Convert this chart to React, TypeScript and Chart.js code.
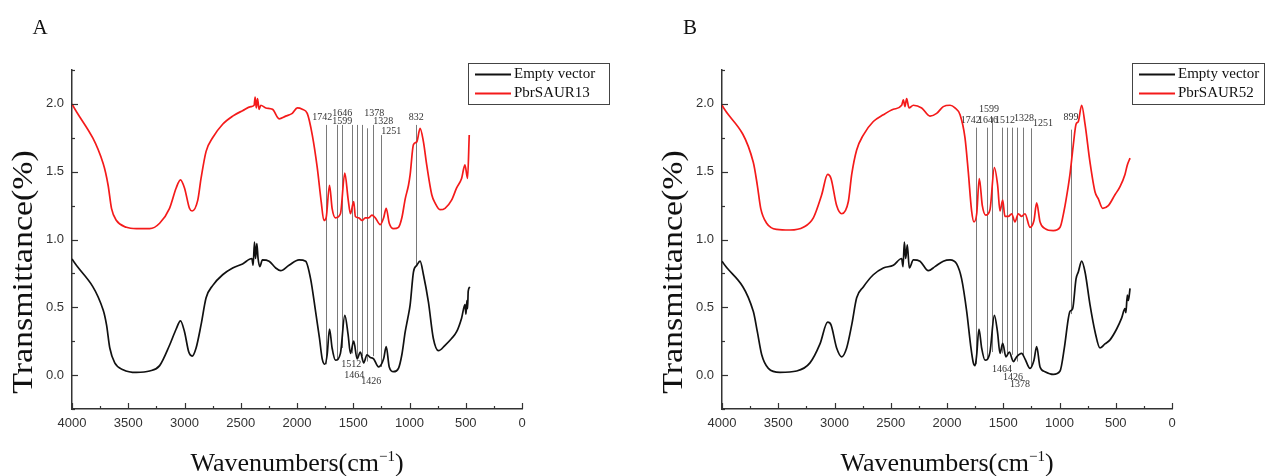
import React, { useEffect, useRef } from 'react';
import { Chart, registerables } from 'chart.js';

Chart.register(...registerables);

type Pt = [number, number];

// ---------- axis ticks ----------
const xTickValues = [4000, 3500, 3000, 2500, 2000, 1500, 1000, 500, 0];
const xMinorValues = [3750, 3250, 2750, 2250, 1750, 1250, 750, 250];
const yTickValues = [0, 0.5, 1.0, 1.5, 2.0];
const yMinorValues = [-0.25, 0.25, 0.75, 1.25, 1.75, 2.25];

// ---------- panel A data ----------
const emptyA: Pt[] = [
  [4000, 0.856], [3723, 0.48], [3693, 0.37], [3664, 0.2], [3620, 0.09], [3546, 0.04], [3428, 0.02],
  [3310, 0.03], [3221, 0.07], [3133, 0.22], [3074, 0.34], [3036, 0.4], [3000, 0.32], [2962, 0.17],
  [2932, 0.14], [2897, 0.2], [2853, 0.37], [2808, 0.57], [2750, 0.66], [2661, 0.74], [2572, 0.79],
  [2484, 0.82], [2401, 0.86], [2390, 0.81], [2378, 0.98], [2368, 0.86], [2357, 0.97], [2346, 0.86],
  [2331, 0.8], [2307, 0.85], [2248, 0.84], [2189, 0.79], [2145, 0.77], [2071, 0.81], [1982, 0.85],
  [1923, 0.84], [1879, 0.71], [1835, 0.47], [1800, 0.27], [1776, 0.12], [1752, 0.08], [1732, 0.15],
  [1711, 0.34], [1688, 0.2], [1658, 0.11], [1614, 0.16], [1575, 0.44], [1546, 0.3], [1525, 0.16],
  [1496, 0.25], [1466, 0.12], [1437, 0.17], [1407, 0.09], [1378, 0.15], [1348, 0.13], [1319, 0.12],
  [1275, 0.06], [1230, 0.12], [1207, 0.21], [1180, 0.06], [1142, 0.025], [1098, 0.05], [1068, 0.15],
  [1038, 0.32], [1015, 0.42], [994, 0.52], [965, 0.76], [935, 0.81], [906, 0.84], [876, 0.74],
  [832, 0.54], [788, 0.27], [743, 0.18], [684, 0.22], [626, 0.27], [581, 0.32], [537, 0.42],
  [507, 0.52], [498, 0.45], [490, 0.55], [484, 0.49], [478, 0.62], [463, 0.65],
];
const saur13: Pt[] = [
  [4000, 2.0], [3723, 1.56], [3679, 1.4], [3649, 1.23], [3605, 1.14], [3516, 1.09], [3428, 1.08],
  [3310, 1.08], [3221, 1.12], [3133, 1.23], [3074, 1.38], [3036, 1.44], [3000, 1.38], [2956, 1.23],
  [2932, 1.21], [2882, 1.29], [2853, 1.45], [2808, 1.65], [2750, 1.75], [2661, 1.85], [2572, 1.91],
  [2484, 1.95], [2410, 1.98], [2381, 1.99], [2372, 2.05], [2362, 1.97], [2351, 2.04], [2337, 1.96],
  [2322, 1.99], [2277, 1.97], [2218, 1.96], [2159, 1.89], [2101, 1.91], [2042, 1.93], [1997, 1.97],
  [1953, 1.96], [1909, 1.93], [1864, 1.77], [1820, 1.53], [1785, 1.28], [1761, 1.14], [1741, 1.16],
  [1711, 1.4], [1688, 1.23], [1658, 1.16], [1614, 1.19], [1575, 1.49], [1546, 1.3], [1525, 1.19],
  [1496, 1.28], [1481, 1.17], [1451, 1.16], [1422, 1.14], [1393, 1.16], [1363, 1.16], [1334, 1.18],
  [1304, 1.16], [1260, 1.11], [1230, 1.16], [1207, 1.23], [1180, 1.12], [1142, 1.08], [1098, 1.09],
  [1068, 1.16], [1038, 1.3], [1009, 1.4], [994, 1.48], [965, 1.7], [935, 1.72], [906, 1.82],
  [876, 1.72], [847, 1.55], [802, 1.33], [773, 1.27], [729, 1.22], [684, 1.23], [626, 1.29],
  [581, 1.38], [537, 1.45], [507, 1.55], [484, 1.45], [469, 1.77],
];
const peakWaveA = [1742, 1646, 1599, 1512, 1464, 1426, 1378, 1328, 1251, 945];
const peakTopA = [1.845, 1.845, 1.845, 1.845, 1.845, 1.845, 1.82, 1.845, 1.77, 1.845];
const peakBottomA = [0.08, 0.11, 0.2, 0.16, 0.12, 0.14, 0.1, 0.14, 0.06, 0.81];
const labelTextA = ['1742', '1646', '1599', '1378', '1328', '1251', '832', '1512', '1464', '1426'];
const labelWaveA = [1775, 1598, 1598, 1314, 1234, 1163, 941, 1518, 1491, 1340];
const labelValA = [1.9, 1.93, 1.87, 1.93, 1.87, 1.8, 1.9, 0.08, 0.0, -0.045];

// ---------- panel B data ----------
const emptyB: Pt[] = [
  [4000, 0.84], [3722, 0.47], [3686, 0.32], [3647, 0.15], [3588, 0.05], [3485, 0.02], [3336, 0.03],
  [3218, 0.09], [3129, 0.23], [3061, 0.39], [3031, 0.37], [2981, 0.2], [2936, 0.135], [2892, 0.2],
  [2847, 0.37], [2803, 0.57], [2744, 0.65], [2655, 0.74], [2566, 0.79], [2477, 0.81], [2403, 0.86],
  [2391, 0.8], [2379, 0.98], [2367, 0.86], [2353, 0.96], [2335, 0.79], [2299, 0.85], [2240, 0.84],
  [2166, 0.77], [2107, 0.8], [2033, 0.84], [1973, 0.85], [1914, 0.82], [1870, 0.71], [1825, 0.47],
  [1790, 0.22], [1766, 0.09], [1751, 0.07], [1736, 0.15], [1716, 0.34], [1692, 0.2], [1662, 0.11],
  [1618, 0.17], [1579, 0.44], [1550, 0.31], [1529, 0.16], [1505, 0.235], [1476, 0.135], [1446, 0.17],
  [1410, 0.1], [1381, 0.135], [1336, 0.16], [1307, 0.12], [1262, 0.05], [1227, 0.11], [1203, 0.21],
  [1173, 0.06], [1129, 0.025], [1055, 0.005], [995, 0.03], [957, 0.2], [921, 0.42], [907, 0.47],
  [883, 0.49], [853, 0.71], [833, 0.76], [803, 0.84], [773, 0.76], [729, 0.52], [684, 0.32],
  [640, 0.2], [596, 0.23], [551, 0.26], [492, 0.34], [448, 0.42], [418, 0.49], [410, 0.46],
  [397, 0.59], [388, 0.55], [373, 0.64],
];
const saur52: Pt[] = [
  [4000, 1.99], [3722, 1.57], [3686, 1.4], [3656, 1.23], [3603, 1.12], [3514, 1.075], [3396, 1.07],
  [3277, 1.09], [3188, 1.16], [3114, 1.33], [3061, 1.48], [3031, 1.45], [2981, 1.25], [2936, 1.19],
  [2877, 1.28], [2847, 1.48], [2803, 1.66], [2744, 1.77], [2655, 1.87], [2566, 1.92], [2477, 1.96],
  [2403, 1.99], [2388, 2.03], [2374, 1.98], [2359, 2.04], [2338, 1.97], [2299, 1.99], [2225, 1.97],
  [2151, 1.91], [2092, 1.93], [2033, 1.98], [1973, 1.99], [1929, 1.97], [1884, 1.92], [1840, 1.75],
  [1811, 1.5], [1781, 1.21], [1760, 1.13], [1736, 1.19], [1713, 1.45], [1686, 1.25], [1656, 1.18],
  [1618, 1.22], [1579, 1.53], [1550, 1.4], [1529, 1.21], [1505, 1.29], [1485, 1.17], [1455, 1.17],
  [1425, 1.19], [1396, 1.13], [1366, 1.19], [1336, 1.17], [1307, 1.19], [1262, 1.09], [1227, 1.14],
  [1203, 1.27], [1173, 1.13], [1129, 1.08], [1055, 1.065], [995, 1.09], [960, 1.21], [921, 1.4],
  [907, 1.48], [877, 1.7], [853, 1.85], [833, 1.87], [803, 1.99], [773, 1.85], [729, 1.57],
  [684, 1.35], [655, 1.3], [616, 1.23], [566, 1.25], [507, 1.33], [462, 1.39], [418, 1.48],
  [397, 1.55], [373, 1.6],
];
const peakWaveB = [1742, 1646, 1599, 1512, 1464, 1426, 1378, 1328, 1251, 899];
const peakTopB = [1.825, 1.825, 1.9, 1.825, 1.825, 1.825, 1.825, 1.825, 1.82, 1.81];
const peakBottomB = [0.08, 0.11, 0.17, 0.16, 0.14, 0.15, 0.1, 0.14, 0.06, 0.45];
const labelTextB = ['1599', '1742', '1646', '1512', '1328', '1251', '899', '1464', '1426', '1378'];
const labelWaveB = [1627, 1790, 1636, 1484, 1316, 1147, 898, 1511, 1413, 1351];
const labelValB = [1.96, 1.875, 1.875, 1.875, 1.89, 1.86, 1.9, 0.045, -0.015, -0.066];

const seriesNames = ['Empty vector'];

interface PanelCfg {
  letter: string;
  name: string;
  empty: Pt[];
  saur: Pt[];
  peakWave: number[];
  peakTop: number[];
  peakBottom: number[];
  labelText: string[];
  labelWave: number[];
  labelVal: number[];
  width: number;
  legendX: number;
  legendW: number;
}

const panelA: PanelCfg = {
  letter: 'A', name: 'PbrSAUR13', empty: emptyA, saur: saur13,
  peakWave: peakWaveA, peakTop: peakTopA, peakBottom: peakBottomA,
  labelText: labelTextA, labelWave: labelWaveA, labelVal: labelValA,
  width: 650, legendX: 468, legendW: 141,
};
const panelB: PanelCfg = {
  letter: 'B', name: 'PbrSAUR52', empty: emptyB, saur: saur52,
  peakWave: peakWaveB, peakTop: peakTopB, peakBottom: peakBottomB,
  labelText: labelTextB, labelWave: labelWaveB, labelVal: labelValB,
  width: 616, legendX: 482, legendW: 132,
};

const H = 476;
const PLOT_LEFT = 72;
const PLOT_RIGHT = 522;
const PLOT_TOP = 70;
const PLOT_BOTTOM = 409;
const BLACK = '#111111';
const RED = '#f41a1a';
const AXIS = '#333333';
const SERIF = '"Liberation Serif", "Times New Roman", serif';
const SANS = '"Liberation Sans", Arial, sans-serif';

function makeChart(canvas: HTMLCanvasElement, cfg: PanelCfg) {
  const decor = {
    id: 'decor',
    beforeDatasetsDraw(chart: any) {
      const { ctx } = chart;
      const xs = chart.scales.x;
      const ys = chart.scales.y;
      ctx.save();
      ctx.strokeStyle = '#7a7a7a';
      ctx.lineWidth = 1;
      cfg.peakWave.forEach((w, i) => {
        const px = Math.round(xs.getPixelForValue(w)) + 0.5;
        ctx.beginPath();
        ctx.moveTo(px, ys.getPixelForValue(cfg.peakTop[i]));
        ctx.lineTo(px, ys.getPixelForValue(cfg.peakBottom[i]));
        ctx.stroke();
      });
      ctx.fillStyle = '#333';
      ctx.font = `10px ${SERIF}`;
      ctx.textAlign = 'center';
      ctx.textBaseline = 'middle';
      cfg.labelText.forEach((t, i) => {
        ctx.fillText(t, xs.getPixelForValue(cfg.labelWave[i]), ys.getPixelForValue(cfg.labelVal[i]));
      });
      ctx.restore();
    },
    afterDraw(chart: any) {
      const { ctx } = chart;
      const xs = chart.scales.x;
      const ys = chart.scales.y;
      const area = chart.chartArea;
      ctx.save();
      // inward tick marks
      ctx.strokeStyle = AXIS;
      ctx.lineWidth = 1.2;
      const xt = (v: number, len: number) => {
        const px = Math.round(xs.getPixelForValue(v)) + 0.5;
        ctx.beginPath();
        ctx.moveTo(px, area.bottom);
        ctx.lineTo(px, area.bottom - len);
        ctx.stroke();
      };
      const yt = (v: number, len: number) => {
        const py = Math.round(ys.getPixelForValue(v)) + 0.5;
        ctx.beginPath();
        ctx.moveTo(area.left, py);
        ctx.lineTo(area.left + len, py);
        ctx.stroke();
      };
      xTickValues.forEach((v) => xt(v, 6));
      xMinorValues.forEach((v) => xt(v, 3));
      yTickValues.forEach((v) => yt(v, 6));
      yMinorValues.forEach((v) => yt(v, 3));

      // axis titles
      ctx.fillStyle = '#111';
      ctx.textBaseline = 'alphabetic';
      const cx = (area.left + area.right) / 2;
      const base = 'Wavenumbers(cm';
      const sup = '\u22121';
      const tail = ')';
      ctx.font = `26px ${SERIF}`;
      const wBase = ctx.measureText(base).width;
      const wTail = ctx.measureText(tail).width;
      ctx.font = `15px ${SERIF}`;
      const wSup = ctx.measureText(sup).width;
      const x0 = cx - (wBase + wSup + wTail) / 2;
      const baseline = 471;
      ctx.textAlign = 'left';
      ctx.font = `26px ${SERIF}`;
      ctx.fillText(base, x0, baseline);
      ctx.font = `15px ${SERIF}`;
      ctx.fillText(sup, x0 + wBase, baseline - 10);
      ctx.font = `26px ${SERIF}`;
      ctx.fillText(tail, x0 + wBase + wSup, baseline);

      ctx.textAlign = 'center';
      ctx.textBaseline = 'middle';
      ctx.save();
      ctx.translate(24, 272);
      ctx.rotate(-Math.PI / 2);
      ctx.scale(1.17, 1);
      ctx.font = `29px ${SERIF}`;
      ctx.fillText('Transmittance(%)', 0, 0);
      ctx.restore();

      // panel letter
      ctx.font = `21px ${SERIF}`;
      ctx.fillText(cfg.letter, 40, 28);

      // legend
      const lx = cfg.legendX;
      const ly = 63;
      ctx.strokeStyle = '#444';
      ctx.lineWidth = 1;
      ctx.strokeRect(lx + 0.5, ly + 0.5, cfg.legendW, 41);
      const rows = [
        { color: BLACK, text: seriesNames[0], y: ly + 11.5 },
        { color: RED, text: cfg.name, y: ly + 30.5 },
      ];
      rows.forEach((r) => {
        ctx.strokeStyle = r.color;
        ctx.lineWidth = 2;
        ctx.beginPath();
        ctx.moveTo(lx + 7, r.y);
        ctx.lineTo(lx + 43, r.y);
        ctx.stroke();
        ctx.fillStyle = '#111';
        ctx.font = `15px ${SERIF}`;
        ctx.textAlign = 'left';
        ctx.fillText(r.text, lx + 46, r.y);
      });
      ctx.restore();
    },
  };

  const lineStyle = {
    borderWidth: 1.7,
    pointRadius: 0,
    fill: false,
    cubicInterpolationMode: 'monotone',
  };

  return new Chart(canvas, {
    type: 'line',
    data: {
      datasets: [
        {
          label: seriesNames[0],
          data: cfg.empty.map(([x, y]) => ({ x, y })),
          borderColor: BLACK,
          ...lineStyle,
        },
        {
          label: cfg.name,
          data: cfg.saur.map(([x, y]) => ({ x, y })),
          borderColor: RED,
          ...lineStyle,
        },
      ],
    },
    options: {
      responsive: false,
      animation: false,
      devicePixelRatio: 1,
      layout: { padding: { top: PLOT_TOP, left: 0, bottom: 0, right: cfg.width - PLOT_RIGHT } },
      plugins: { legend: { display: false }, tooltip: { enabled: false }, title: { display: false } },
      scales: {
        x: {
          type: 'linear',
          min: 0,
          max: 4000,
          reverse: true,
          grid: { display: false, drawTicks: false },
          border: { display: true, color: AXIS, width: 1.5 },
          afterFit: (s: any) => { s.height = H - PLOT_BOTTOM; },
          afterBuildTicks: (s: any) => { s.ticks = xTickValues.map((value) => ({ value })); },
          ticks: {
            padding: 7,
            color: '#333',
            autoSkip: false,
            maxRotation: 0,
            font: { family: SANS, size: 13 },
            callback: (v: any) => String(v),
          },
        },
        y: {
          type: 'linear',
          min: -0.25,
          max: 2.25,
          grid: { display: false, drawTicks: false },
          border: { display: true, color: AXIS, width: 1.5 },
          afterFit: (s: any) => { s.width = PLOT_LEFT; },
          afterBuildTicks: (s: any) => { s.ticks = yTickValues.map((value) => ({ value })); },
          ticks: {
            padding: 8,
            color: '#333',
            autoSkip: false,
            font: { family: SANS, size: 13 },
            callback: (v: any) => Number(v).toFixed(1),
          },
        },
      },
    },
    plugins: [decor],
  } as any);
}

function Panel({ cfg, left }: { cfg: PanelCfg; left: number }) {
  const ref = useRef<HTMLCanvasElement | null>(null);
  useEffect(() => {
    if (!ref.current) return;
    const chart = makeChart(ref.current, cfg);
    return () => chart.destroy();
  }, [cfg]);
  return (
    <canvas
      ref={ref}
      width={cfg.width}
      height={H}
      style={{ position: 'absolute', left, top: 0, width: cfg.width, height: H }}
    />
  );
}

export default function App() {
  return (
    <div style={{ position: 'fixed', left: 0, top: 0, width: 1266, height: H, background: '#fff', overflow: 'hidden' }}>
      <Panel cfg={panelA} left={0} />
      <Panel cfg={panelB} left={650} />
    </div>
  );
}
